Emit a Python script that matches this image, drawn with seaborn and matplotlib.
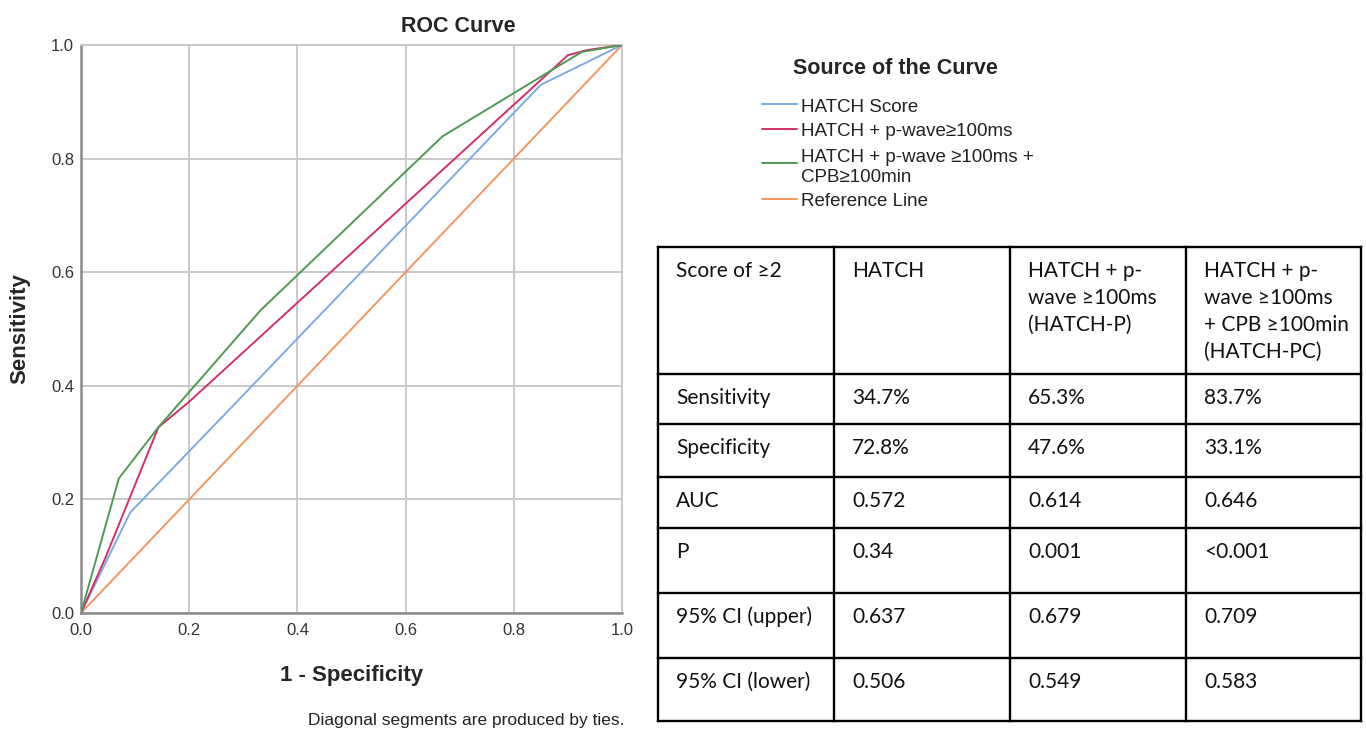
import matplotlib
matplotlib.use("Agg")
import matplotlib.pyplot as plt
import seaborn as sns
import pandas as pd

# ---------------- data ----------------
hatch_x = [0.0, 0.091, 0.272, 0.85, 1.0]
hatch_y = [0.0, 0.177, 0.356, 0.93, 1.0]
hatchp_x = [0.0, 0.045, 0.143, 0.20, 0.90, 0.935, 1.0]
hatchp_y = [0.0, 0.097, 0.327, 0.372, 0.982, 0.991, 1.0]
hatchpc_x = [0.0, 0.07, 0.143, 0.332, 0.668, 0.926, 1.0]
hatchpc_y = [0.0, 0.237, 0.327, 0.533, 0.839, 0.988, 1.0]
ref_x = [0.0, 1.0]
ref_y = [0.0, 1.0]

series_names = ["HATCH Score", "HATCH + p-wave\u2265100ms",
                "HATCH + p-wave \u2265100ms +\nCPB\u2265100min", "Reference Line"]
series_colors = ["#7eaae4", "#d3306a", "#4f9a52", "#f39660"]

ticks = [0.0, 0.2, 0.4, 0.6, 0.8, 1.0]
tick_labels = ["0.0", "0.2", "0.4", "0.6", "0.8", "1.0"]

table_header = ["Score of \u22652", "HATCH", "HATCH + p-\nwave \u2265100ms\n(HATCH-P)",
                "HATCH + p-\nwave \u2265100ms\n+ CPB \u2265100min\n(HATCH-PC)"]
row_labels = ["Sensitivity", "Specificity", "AUC", "P", "95% CI (upper)", "95% CI (lower)"]
col_hatch = ["34.7%", "72.8%", "0.572", "0.34", "0.637", "0.506"]
col_hatchp = ["65.3%", "47.6%", "0.614", "0.001", "0.679", "0.549"]
col_hatchpc = ["83.7%", "33.1%", "0.646", "<0.001", "0.709", "0.583"]

# ---------------- figure ----------------
sns.set_theme(style="white")
plt.rcParams['font.family'] = ['Liberation Sans', 'DejaVu Sans']

W, H = 1366, 731
fig = plt.figure(figsize=(W / 100, H / 100), dpi=100)
fig.patch.set_facecolor("white")

ax = fig.add_axes([81 / W, 1 - 613 / H, (622 - 81) / W, (613 - 45) / H])

frames = []
for name, xs, ys in zip(series_names,
                        [hatch_x, hatchp_x, hatchpc_x, ref_x],
                        [hatch_y, hatchp_y, hatchpc_y, ref_y]):
    frames.append(pd.DataFrame({"x": xs, "y": ys, "series": name,
                                "order": range(len(xs))}))
df = pd.concat(frames, ignore_index=True)

draw_order = [series_names[3], series_names[0], series_names[1], series_names[2]]
palette = dict(zip(series_names, series_colors))
for name in draw_order:
    sub = df[df["series"] == name]
    sns.lineplot(data=sub, x="x", y="y", color=palette[name], sort=False,
                 estimator=None, linewidth=1.4, ax=ax, legend=False, zorder=3)

ax.set_xlim(0, 1)
ax.set_ylim(0, 1)
ax.set_xticks(ticks)
ax.set_yticks(ticks)
ax.set_xticklabels(tick_labels, fontsize=12, color="#333333")
ax.set_yticklabels(tick_labels, fontsize=12, color="#333333")
ax.tick_params(axis="both", length=0)
ax.tick_params(axis="x", pad=7)
ax.tick_params(axis="y", pad=5)
ax.grid(True, color="#c9c9c9", linewidth=1.4)
ax.set_axisbelow(True)
for s in ["top", "right"]:
    ax.spines[s].set_color("#c9c9c9")
    ax.spines[s].set_linewidth(1.4)
for s in ["left", "bottom"]:
    ax.spines[s].set_color("#8a8a8a")
    ax.spines[s].set_linewidth(1.8)
ax.set_xlabel("")
ax.set_ylabel("")

# ---------------- overlay (pixel coordinates) ----------------
ov = fig.add_axes([0, 0, 1, 1], zorder=-1)
ov.set_xlim(0, W)
ov.set_ylim(H, 0)
ov.axis("off")

ov.text(458, 27, "ROC Curve", fontsize=15.5, fontweight="bold", ha="center", va="center")
ov.text(20, 329, "Sensitivity", fontsize=16, fontweight="bold", ha="center", va="center",
        rotation=90)
ov.text(352, 676, "1 - Specificity", fontsize=16, fontweight="bold", ha="center", va="center")
ov.text(625, 721, "Diagonal segments are produced by ties.", fontsize=12.5,
        ha="right", va="center", color="#222222")

# legend
ov.text(793, 69, "Source of the Curve", fontsize=15.5, fontweight="bold", ha="left",
        va="center")
leg_text_y = [107, 132, 157, 202]
leg_line_y = [104, 129, 163, 199]
for name, col, ty, ly in zip(series_names, series_colors, leg_text_y, leg_line_y):
    ov.plot([762, 797], [ly, ly], color=col, linewidth=1.4)
    lines = name.split("\n")
    for i, ln in enumerate(lines):
        ov.text(801, ty + 20 * i, ln, fontsize=13.5, ha="left", va="center", color="#222222")

# table
col_edges = [658, 834, 1010, 1186, 1361]
row_edges = [247, 374, 424, 477, 528, 593, 658, 721]
for y in row_edges:
    ov.plot([col_edges[0], col_edges[-1]], [y, y], color="black", linewidth=1.7,
            solid_capstyle="projecting")
for x in col_edges:
    ov.plot([x, x], [row_edges[0], row_edges[-1]], color="black", linewidth=1.7,
            solid_capstyle="projecting")

tfont = ['Lato', 'DejaVu Sans']
def cell(ci, ri, txt):
    x = col_edges[ci] + 18
    for i, ln in enumerate(txt.split("\n")):
        ov.text(x, row_edges[ri] + 30 + 27 * i, ln, fontsize=15, family=tfont,
                ha="left", va="baseline", color="#111111")

for ci, t in enumerate(table_header):
    cell(ci, 0, t)
cols = [row_labels, col_hatch, col_hatchp, col_hatchpc]
for ci, c in enumerate(cols):
    for ri, t in enumerate(c):
        cell(ci, ri + 1, t)

fig.savefig("out.png", dpi=100, facecolor="white")
